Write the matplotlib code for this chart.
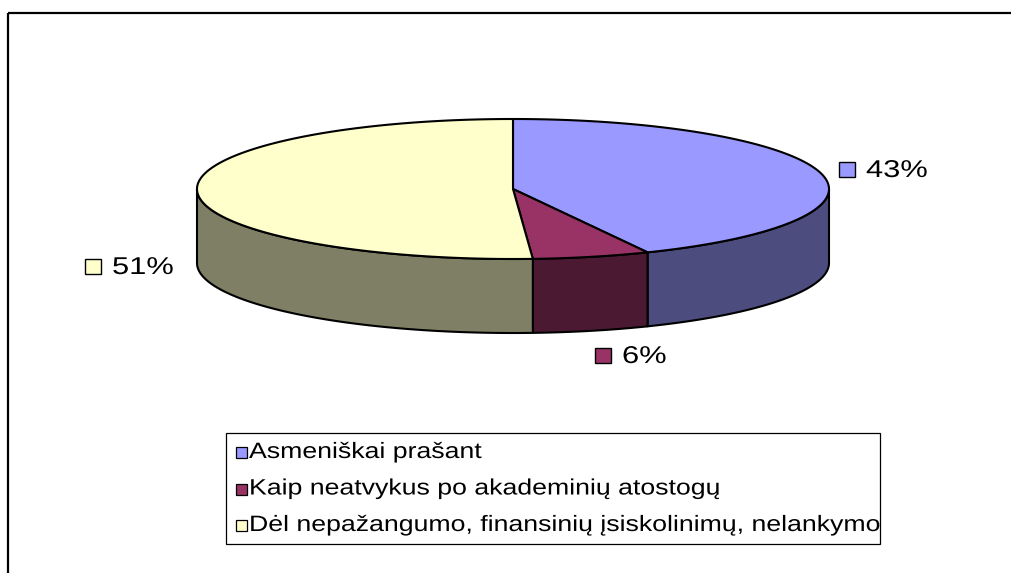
import numpy as np
import matplotlib
matplotlib.use("Agg")
import matplotlib.pyplot as plt
from matplotlib.patches import Polygon, Rectangle
from matplotlib.patheffects import AbstractPathEffect
from matplotlib.transforms import Affine2D

plt.rcParams['font.family'] = ['Liberation Sans', 'DejaVu Sans']

# data
categories = ["Asmeniškai prašant",
              "Kaip neatvykus po akademinių atostogų",
              "Dėl nepažangumo, finansinių įsiskolinimų, nelankymo"]
shares = [43, 6, 51]
pct_labels = ["43%", "6%", "51%"]
top_colors = ["#9999FF", "#993366", "#FFFFCC"]
side_colors = ["#4C4C7F", "#4C1933", "#7F7F66"]

# layout (pixels, y down)
CX, CY = 513, 189        # pie centre
RX, RY = 316, 70         # ellipse radii
DEPTH = 74               # pie thickness
label_xy = [(866, 177), (622, 363), (112, 274)]


class Stretch(AbstractPathEffect):
    """widen glyphs like the original (non-uniformly scaled) picture"""
    def __init__(self, sx):
        super().__init__()
        self.sx = sx

    def draw_path(self, renderer, gc, tpath, affine, rgbFace=None):
        renderer.draw_path(gc, tpath, Affine2D().scale(self.sx, 1) + affine, rgbFace)


def rim(t0, t1, n=200):
    # angle in degrees, clockwise from 12 o'clock
    t = np.radians(np.linspace(t0, t1, n))
    return CX + RX * np.sin(t), CY - RY * np.cos(t)


fig = plt.figure(figsize=(10.11, 5.73), dpi=100)
ax = fig.add_axes([0, 0, 1, 1])
ax.set_xlim(0, 1011)
ax.set_ylim(573, 0)
ax.axis("off")

bounds = 360 * np.cumsum([0] + shares) / sum(shares)

# sides (front half only)
for i in range(len(shares)):
    lo, hi = max(bounds[i], 90), min(bounds[i + 1], 270)
    if hi > lo:
        x, y = rim(lo, hi)
        pts = np.column_stack([np.r_[x, x[::-1]], np.r_[y, y[::-1] + DEPTH]])
        ax.add_patch(Polygon(pts, closed=True, facecolor=side_colors[i],
                             edgecolor="black", lw=1.5, joinstyle="round"))

# top faces
for i in range(len(shares)):
    x, y = rim(bounds[i], bounds[i + 1])
    pts = np.column_stack([np.r_[CX, x], np.r_[CY, y]])
    ax.add_patch(Polygon(pts, closed=True, facecolor=top_colors[i],
                         edgecolor="black", lw=1.5, joinstyle="round"))

# data labels with colour keys
for (tx, ty), lab, col in zip(label_xy, pct_labels, top_colors):
    ax.add_patch(Rectangle((tx - 27, ty - 15), 16, 15, facecolor=col,
                           edgecolor="black", lw=1.0))
    ax.text(tx, ty, lab, fontsize=17.5, ha="left", va="baseline",
            path_effects=[Stretch(1.27)])

# legend
ax.add_patch(Rectangle((226, 433), 654, 111, fill=False, edgecolor="black", lw=0.9))
for b, name, col in zip([458, 494.5, 531], categories, top_colors):
    ax.add_patch(Rectangle((236, b - 11), 11, 11, facecolor=col,
                           edgecolor="black", lw=0.9))
    ax.text(249, b, name, fontsize=16, ha="left", va="baseline",
            path_effects=[Stretch(1.2)])

# chart area frame (right/bottom edges fall outside the picture)
ax.add_patch(Rectangle((8, 13), 1100, 700, fill=False, edgecolor="black",
                       lw=1.6, clip_on=False))

fig.savefig("out.png", dpi=100)
